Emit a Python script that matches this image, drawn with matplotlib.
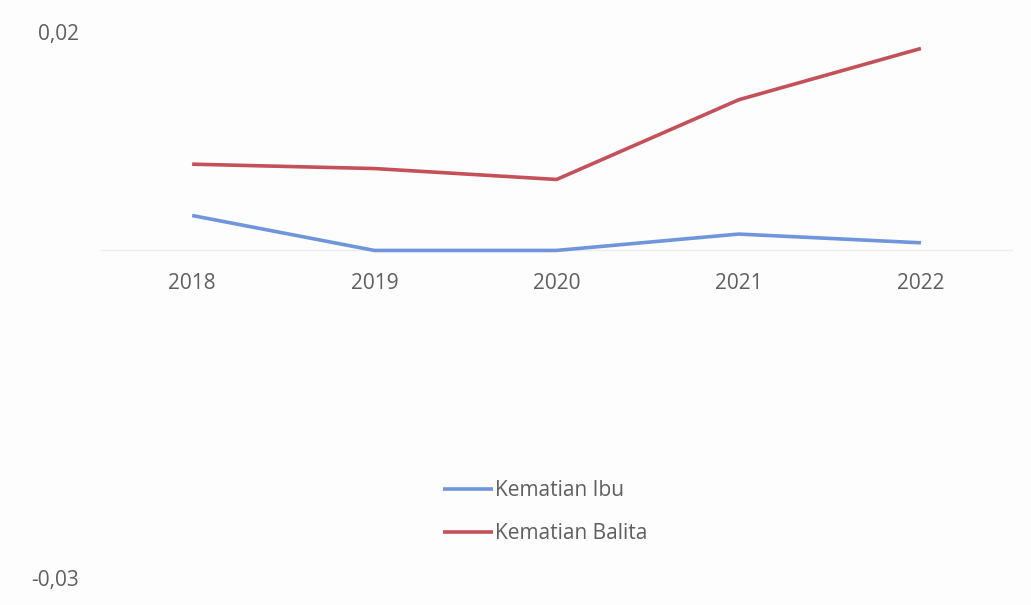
import matplotlib.pyplot as plt
import numpy as np

years = ["2018", "2019", "2020", "2021", "2022"]
kematian_ibu = [0.0032, 0.0000, 0.0000, 0.0015, 0.0007]
kematian_balita = [0.0079, 0.0075, 0.0065, 0.0138, 0.0185]
y_ticks = [0.02, -0.03]
y_tick_labels = ["0,02", "-0,03"]

plt.rcParams["font.family"] = ["Open Sans", "DejaVu Sans"]
text_color = "#5f5f5f"

fig = plt.figure(figsize=(10.31, 6.05), dpi=100)
ax = fig.add_axes([0.098, 0.0446, 0.8836, 0.9024])

x = np.arange(len(years))
ax.plot(x, kematian_ibu, color="#6f95dd", lw=2.6, label="Kematian Ibu",
        solid_capstyle="butt", zorder=4)
ax.plot(x, kematian_balita, color="#c4505a", lw=2.6, label="Kematian Balita",
        solid_capstyle="butt", zorder=4)

ax.set_xlim(-0.5, 4.5)
ax.set_ylim(-0.03, 0.02)

for s in ["top", "right", "left"]:
    ax.spines[s].set_visible(False)
ax.spines["bottom"].set_position(("data", 0))
ax.spines["bottom"].set_color("#ececec")
ax.spines["bottom"].set_linewidth(1.0)
ax.spines["bottom"].set_zorder(1)

ax.set_xticks(x)
ax.set_xticklabels(years)
ax.tick_params(axis="x", length=0, pad=16, labelsize=15, labelcolor=text_color)

ax.set_yticks(y_ticks)
ax.set_yticklabels(y_tick_labels)
ax.tick_params(axis="y", length=0, pad=16, labelsize=15, labelcolor=text_color)

ax.legend(loc="center", bbox_to_anchor=(0.488, 0.121), frameon=False,
          fontsize=15, labelcolor=text_color, handlelength=2.4, handletextpad=0.1,
          labelspacing=1.05)

fig.patch.set_facecolor("#fdfdfd")
ax.set_facecolor("none")

fig.savefig("out.png", dpi=100)
